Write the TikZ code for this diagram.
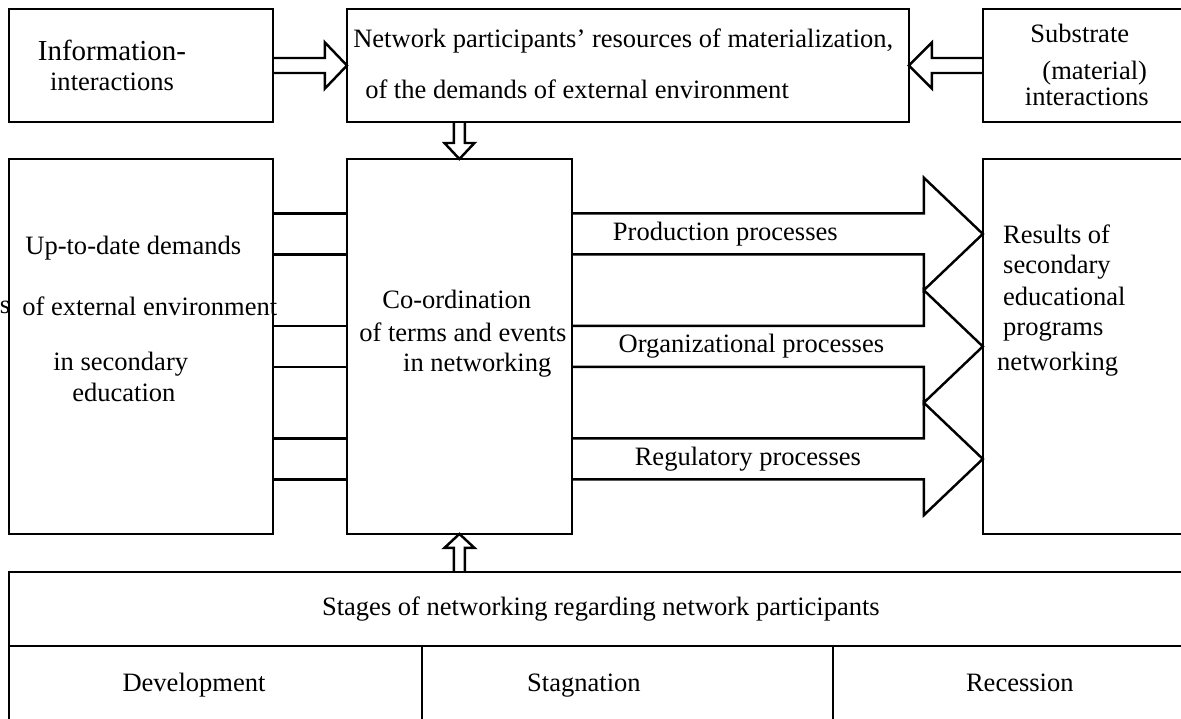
\documentclass[tikz,border=0pt]{standalone}
\usepackage{fontspec}
\setmainfont{Liberation Serif}
\usetikzlibrary{positioning,calc}

\begin{document}
\begin{tikzpicture}[
  x=0.02cm, y=-0.02cm,
  font=\fontsize{15.1}{17.2}\selectfont,
  box/.style={draw, line width=1.4pt, fill=white, inner sep=0pt, outer sep=0pt},
  txt/.style={inner sep=0pt},
  txtl/.style={txt, align=left, anchor=west},
  fat/.style={line width=1.4pt, line join=miter},
  link/.style={line width=1.4pt},
  plabel/.style={txt, yshift=-11.66pt},
  node distance=0.74cm]
  \useasboundingbox (0,0) rectangle (1181,718);
  \clip (0,0) rectangle (1181,718);
  \node[txt] (stray) at (5,307) {s};
  % top row
  \node[box, minimum width=5.28cm, minimum height=2.26cm] (info) at (141,65.5) {};
  \node[box, minimum width=11.24cm, minimum height=2.26cm, right=1.48cm of info] (net) {};
  \node[box, minimum width=4.2cm, minimum height=2.26cm, right=1.48cm of net] (subst) {};
  % middle row
  \node[box, minimum width=5.28cm, minimum height=7.5cm, below=of info] (dem) {};
  \node[box, minimum width=4.5cm, minimum height=7.5cm, below=of net.south west, anchor=north west] (coord) {};
  \node[box, minimum width=4.2cm, minimum height=7.5cm, below=of subst] (res) {};
  % stages table
  \node[box, minimum width=23.68cm, minimum height=1.48cm, below=0.76cm of dem.south west, anchor=north west] (stages) {Stages of networking regarding network participants};
  \node[box, minimum width=8.26cm, minimum height=1.64cm, below=0pt of stages.south west, anchor=north west] (dev) {};
  \node[box, minimum width=8.22cm, minimum height=1.64cm, right=0pt of dev] (stag) {};
  \node[box, minimum width=7.2cm, minimum height=1.64cm, right=0pt of stag] (rec) {};
  % texts
  \node[txt, align=center] (infotext) at ($(info.center)+(-29,0)$) {{\fontsize{16.5}{17.2}\selectfont Information-}\\interactions};
  \node[txtl] (nettext) at ($(net.west)+(6,-2)$) {Network participants’ resources of materialization,\\[11.8pt]\hspace*{6.8pt}of the demands of external environment};
  \node[txt, align=center] (substtext) at ($(subst.center)+(-1,-0.5)$) {Substrate\hspace*{8pt}\\[3.5pt]\hspace*{9pt}(material)\\[-2.5pt]interactions};
  \node[txtl] (demtext) at ($(dem.west)+(13,-27.5)$) {\hspace*{1.7pt}Up-to-date demands\\[17.5pt]of external environment\\[14.1pt]\hspace*{17.6pt}in secondary\\ \hspace*{28.4pt}education};
  \node[txtl] (coordtext) at ($(coord.west)+(12,-13)$) {\hspace*{13.1pt}Co-ordination\\[1.6pt]of terms and events\\ \hspace*{25pt}in networking};
  \node[txtl] (restext) at ($(res.west)+(20,-46)$) {Results of\\secondary\\[1.1pt]educational\\programs\\[2.7pt]\hspace*{-3.4pt}networking};
  \node[txt, anchor=base] (devtext) at ($(dev.center)+(-21.5,5)$) {Development};
  \node[txt, anchor=base] (stagtext) at ($(stag.center)+(-43.5,5)$) {Stagnation};
  \node[txt, anchor=base] (rectext) at ($(rec.center)+(7,5)$) {Recession};
  % block arrows into the top box
  \draw[fat] ($(info.east)+(0,-7.5)$) -- ($(net.west)+(-22,-7.5)$) -- ($(net.west)+(-22,-23)$) -- (net.west) -- ($(net.west)+(-22,23)$) -- ($(net.west)+(-22,7.5)$) -- ($(info.east)+(0,7.5)$);
  \draw[fat] ($(subst.west)+(0,-7.5)$) -- ($(net.east)+(23,-7.5)$) -- ($(net.east)+(23,-23)$) -- (net.east) -- ($(net.east)+(23,23)$) -- ($(net.east)+(23,7.5)$) -- ($(subst.west)+(0,7.5)$);
  \draw[fat] ($(net.south -| coord.north)+(-5.5,0)$) -- ($(coord.north)+(-5.5,-16)$) -- ($(coord.north)+(-15,-16)$) -- (coord.north) -- ($(coord.north)+(15,-16)$) -- ($(coord.north)+(5.5,-16)$) -- ($(net.south -| coord.north)+(5.5,0)$);
  \draw[fat] ($(stages.north -| coord.south)+(-5.5,0)$) -- ($(coord.south)+(-5.5,14)$) -- ($(coord.south)+(-15,14)$) -- (coord.south) -- ($(coord.south)+(15,14)$) -- ($(coord.south)+(5.5,14)$) -- ($(stages.north -| coord.south)+(5.5,0)$);
  % links on the left
  \draw[link] ($(dem.east)+(0,-133)$) rectangle ($(coord.west)+(0,-92)$);
  \draw[link] ($(dem.east)+(0,-20.5)$) rectangle ($(coord.west)+(0,20.5)$);
  \draw[link] ($(dem.east)+(0,92)$) rectangle ($(coord.west)+(0,133)$);
  % process arrows
  \draw[fat] ($(coord.east)+(0,-133)$) -- node[plabel, pos=.436] (prodlbl) {Production processes} ($(res.west)+(-59,-133)$) -- ($(res.west)+(-59,-168.75)$) -- ($(res.west)+(0,-112.5)$) -- ($(res.west)+(-59,-56.25)$) -- ($(res.west)+(-59,-92)$) -- ($(coord.east)+(0,-92)$);
  \draw[fat] ($(coord.east)+(0,-20.5)$) -- node[plabel, pos=.51] (orglbl) {Organizational processes} ($(res.west)+(-59,-20.5)$) -- ($(res.west)+(-59,-56.25)$) -- (res.west) -- ($(res.west)+(-59,56.25)$) -- ($(res.west)+(-59,20.5)$) -- ($(coord.east)+(0,20.5)$);
  \draw[fat] ($(coord.east)+(0,92)$) -- node[plabel, pos=.50] (reglbl) {Regulatory processes} ($(res.west)+(-59,92)$) -- ($(res.west)+(-59,56.25)$) -- ($(res.west)+(0,112.5)$) -- ($(res.west)+(-59,168.75)$) -- ($(res.west)+(-59,133)$) -- ($(coord.east)+(0,133)$);
\end{tikzpicture}
\end{document}
